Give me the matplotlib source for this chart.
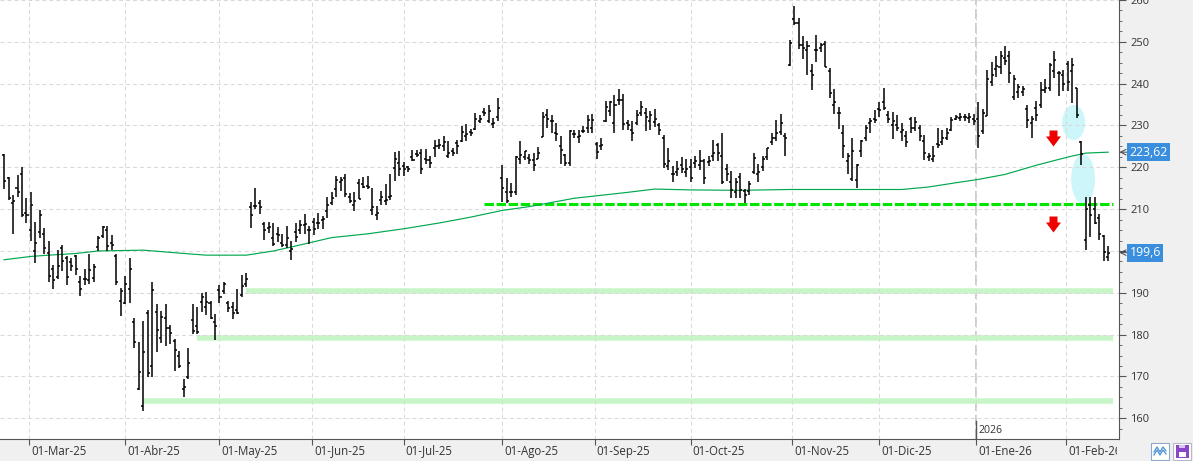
import numpy as np
import pandas as pd
import matplotlib
matplotlib.use('Agg')
import matplotlib.pyplot as plt
from matplotlib.patches import Ellipse, Rectangle
from matplotlib.path import Path
from matplotlib.ticker import MultipleLocator
from matplotlib.transforms import blended_transform_factory, offset_copy, Bbox, TransformedBbox

plt.rcParams['font.family'] = ['Open Sans', 'DejaVu Sans']

# trading days shown (US market calendar)
holidays = ['2025-04-18', '2025-05-26', '2025-06-19', '2025-07-04', '2025-09-01',
            '2025-11-27', '2025-12-25', '2026-01-01', '2026-01-19']
dates = pd.bdate_range('2025-02-21', '2026-02-13', freq='C', holidays=holidays)
meses = ['Ene', 'Feb', 'Mar', 'Abr', 'May', 'Jun', 'Jul', 'Ago', 'Sep', 'Oct', 'Nov', 'Dic']

highs = [
    223.3, 217.6, 213.3, 218.1, 220.0, 212.7,
    214.0, 207.0, 209.9, 205.6, 202.4, 196.7, 200.2, 201.4, 198.8, 198.4, 199.0, 194.0, 195.8, 199.2, 196.8, 203.5, 206.0, 206.0, 203.7, 199.2, 191.1,
    193.9, 198.3, 184.0, 178.2, 183.3, 185.9, 192.6, 187.3, 185.7, 187.3, 182.4, 179.0, 176.2, 169.5, 176.8, 187.3, 186.7, 190.0, 190.2, 188.0, 184.9,
    191.8, 192.7, 188.1, 187.9, 190.9, 194.2, 194.7, 211.7, 215.0, 212.1, 207.0, 207.0, 206.7, 205.7, 204.1, 206.0, 202.5, 206.7, 207.5, 208.9, 206.0,
    207.9, 209.1, 208.3, 212.9, 214.0, 217.9, 217.8, 218.4, 213.9, 214.0, 217.2, 217.6, 217.9, 215.0, 210.8, 214.4, 216.0, 218.4, 223.6, 224.0,
    221.2, 220.4, 224.1, 224.1, 224.4, 224.4, 222.8, 226.6, 226.7, 227.4, 226.3, 224.6, 226.5, 229.8, 230.3, 229.1, 232.9, 232.5, 234.3, 234.9, 231.9, 236.5,
    220.5, 217.5, 216.2, 222.8, 226.3, 224.0, 223.2, 223.5, 224.8, 233.2, 234.0, 232.4, 230.5, 227.4, 223.1, 229.0, 229.0, 229.0, 229.8, 232.6, 232.8,
    226.1, 227.0, 235.8, 235.9, 237.4, 238.8, 237.5, 231.4, 231.0, 233.8, 235.9, 234.2, 233.4, 234.0, 230.5, 227.8, 224.5, 220.4, 221.5, 222.4, 222.1,
    222.1, 222.7, 224.2, 221.9, 222.7, 226.6, 225.8, 228.2, 220.7, 219.1, 217.5, 218.7, 214.7, 216.7, 223.5, 220.7, 222.7, 224.6, 228.2, 231.4, 232.8, 228.2, 250.4,
    258.6, 255.6, 251.3, 250.2, 244.7, 251.6, 249.8, 250.2, 243.7, 238.7, 234.5, 230.2, 223.4, 227.0, 220.9, 226.6, 230.2, 231.7, 233.7,
    235.7, 239.0, 233.5, 233.3, 232.5, 230.6, 228.6, 232.1, 232.1, 230.0, 227.8, 223.4, 225.0, 229.4, 229.0, 229.4, 232.1, 232.5, 232.9, 232.7, 232.9, 232.7,
    235.6, 234.0, 243.3, 245.2, 246.7, 247.9, 248.9, 247.7, 242.1, 239.8, 239.4, 235.0, 232.2, 235.8, 240.4, 241.0, 244.9, 247.9, 243.1, 243.3,
    245.5, 246.1, 239.0, 226.3, 212.9, 212.8, 212.8, 208.8, 203.9, 201.3,
]
lows = [
    214.7, 212.3, 204.1, 212.9, 208.2, 206.7,
    202.4, 197.2, 203.2, 199.2, 192.5, 190.9, 193.3, 195.2, 191.8, 195.2, 194.3, 189.3, 191.9, 192.1, 192.5, 200.0, 203.2, 200.0, 200.2, 191.8, 184.4,
    187.4, 187.5, 176.7, 166.7, 161.7, 169.8, 169.8, 175.8, 178.0, 177.2, 177.8, 171.3, 172.0, 165.1, 169.3, 180.2, 180.1, 185.3, 184.8, 183.7, 178.6,
    187.5, 189.7, 185.3, 183.7, 184.9, 188.9, 191.3, 205.6, 210.1, 208.8, 202.7, 204.3, 201.3, 202.1, 200.9, 200.6, 197.9, 202.1, 204.1, 204.1, 201.7,
    203.7, 205.3, 205.3, 207.9, 210.9, 213.0, 214.4, 213.0, 211.5, 209.5, 212.4, 215.0, 214.8, 208.5, 207.5, 210.9, 211.1, 212.1, 216.8, 218.0,
    218.0, 219.0, 221.6, 222.4, 218.4, 220.8, 219.8, 222.4, 224.4, 224.0, 222.2, 222.8, 223.2, 226.0, 226.3, 227.5, 228.9, 230.7, 232.3, 230.5, 229.4, 231.1,
    211.7, 211.5, 212.9, 213.3, 220.7, 221.8, 220.7, 219.1, 221.9, 227.2, 229.4, 228.2, 226.2, 220.8, 220.4, 220.4, 227.0, 225.8, 228.1, 228.1, 228.2,
    221.9, 224.2, 230.9, 232.2, 228.1, 235.0, 229.0, 229.0, 226.4, 230.2, 232.2, 228.8, 229.0, 229.6, 227.7, 219.9, 219.3, 216.5, 217.9, 218.7, 217.6,
    216.5, 219.9, 219.3, 215.9, 220.3, 221.5, 221.5, 215.9, 216.7, 212.6, 212.7, 212.7, 211.5, 213.3, 218.3, 216.5, 219.1, 221.7, 225.4, 226.2, 227.8, 222.7, 244.3,
    254.0, 248.4, 246.0, 242.1, 238.5, 245.2, 247.5, 244.0, 236.5, 232.8, 229.2, 222.2, 218.4, 216.7, 215.1, 222.4, 226.2, 228.2, 230.6,
    232.1, 233.7, 230.6, 226.8, 228.6, 226.2, 224.8, 228.2, 228.6, 226.2, 221.8, 221.4, 221.2, 224.6, 225.4, 226.6, 228.6, 231.3, 231.1, 231.1, 230.6, 230.2,
    224.7, 227.9, 232.2, 239.5, 241.7, 242.3, 244.5, 240.2, 236.2, 236.6, 237.0, 229.4, 226.9, 231.0, 234.2, 237.8, 238.2, 241.3, 237.0, 238.2,
    238.2, 235.4, 231.8, 220.5, 200.2, 203.3, 206.4, 202.6, 197.7, 197.5,
]
opens = [
    222.9, 217.4, 211.5, 215.0, 218.4, 209.0,
    205.0, 200.0, 204.5, 204.0, 199.4, 195.7, 193.8, 200.6, 198.4, 197.4, 198.8, 192.6, 193.3, 193.0, 193.5, 201.0, 203.5, 205.0, 202.0, 198.8, 188.0,
    187.6, 191.0, 183.0, 167.0, 163.0, 185.2, 172.6, 185.5, 179.1, 184.0, 181.7, 178.4, 175.0, 167.0, 169.9, 183.5, 182.0, 187.8, 186.5, 187.5, 183.0,
    190.7, 190.5, 187.5, 186.5, 186.0, 189.5, 192.0, 210.5, 210.8, 211.5, 206.5, 205.5, 203.0, 204.1, 201.8, 201.5, 200.1, 204.6, 205.0, 206.3, 205.0,
    207.0, 206.8, 207.5, 209.5, 211.5, 214.8, 216.5, 217.5, 213.0, 211.0, 216.3, 216.0, 215.5, 209.8, 208.6, 212.2, 212.0, 213.0, 219.8, 221.0,
    220.3, 220.0, 222.5, 223.2, 223.5, 222.0, 221.8, 224.5, 225.2, 225.0, 222.8, 223.8, 225.7, 226.4, 227.5, 228.5, 229.2, 231.0, 233.2, 231.0, 230.4, 232.0,
    217.4, 214.0, 214.0, 214.0, 221.9, 222.5, 222.2, 221.8, 222.1, 227.3, 232.5, 231.0, 228.3, 225.0, 223.0, 221.0, 228.0, 227.3, 228.6, 229.4, 229.5,
    225.5, 225.0, 231.1, 233.5, 230.5, 236.2, 236.0, 230.5, 229.0, 230.6, 233.0, 233.0, 231.0, 230.9, 230.2, 227.0, 220.4, 218.4, 219.0, 220.5, 219.0,
    220.0, 221.0, 220.5, 221.5, 221.3, 222.8, 225.4, 222.8, 219.5, 216.5, 214.0, 217.7, 214.4, 214.3, 219.0, 218.5, 220.0, 222.5, 226.0, 227.0, 228.5, 227.5, 244.5,
    255.4, 254.5, 249.3, 248.0, 243.1, 248.0, 248.5, 249.5, 243.0, 234.9, 233.0, 228.2, 221.5, 217.1, 217.0, 224.0, 227.0, 230.6, 231.5,
    234.0, 235.5, 232.4, 230.0, 230.0, 228.5, 227.5, 231.5, 229.5, 229.3, 226.3, 222.5, 222.0, 225.5, 226.0, 227.0, 229.0, 231.5, 231.8, 232.0, 231.8, 231.5,
    231.5, 228.8, 232.2, 240.5, 243.5, 244.0, 246.1, 246.5, 236.9, 238.0, 238.0, 234.0, 230.5, 234.2, 235.0, 238.5, 239.0, 243.0, 242.5, 242.0,
    244.6, 243.0, 238.9, 226.0, 202.6, 211.0, 210.0, 207.8, 203.6, 198.5,
]
closes = [
    216.7, 212.7, 212.0, 214.2, 208.7, 208.7,
    211.0, 202.0, 208.6, 200.8, 194.0, 193.0, 196.4, 197.6, 193.8, 196.5, 195.8, 191.0, 193.4, 195.5, 196.2, 203.0, 205.7, 201.2, 201.4, 192.6, 190.4,
    192.1, 195.6, 178.2, 171.1, 175.8, 170.9, 190.6, 181.1, 184.3, 181.5, 180.5, 176.4, 172.5, 167.6, 173.1, 180.8, 180.6, 189.1, 187.8, 184.0, 182.1,
    189.0, 192.0, 186.4, 185.2, 185.2, 191.6, 193.4, 208.5, 210.7, 210.5, 205.1, 205.8, 201.7, 203.8, 201.4, 203.0, 200.5, 203.3, 206.1, 206.5, 205.1,
    205.2, 206.7, 207.6, 211.0, 212.7, 217.0, 217.0, 213.6, 212.0, 212.0, 212.5, 215.4, 215.2, 210.5, 209.0, 213.0, 212.2, 213.1, 222.0, 219.5,
    219.5, 219.5, 221.8, 223.0, 219.5, 221.7, 221.0, 225.0, 225.3, 226.1, 223.5, 223.5, 225.0, 228.5, 228.0, 228.3, 231.5, 231.5, 233.0, 233.5, 230.5, 234.1,
    215.0, 212.0, 214.1, 222.5, 223.0, 223.8, 221.8, 220.5, 223.5, 232.0, 231.5, 231.1, 228.0, 224.2, 221.0, 228.8, 227.9, 227.5, 228.6, 231.4, 231.4,
    223.6, 225.3, 234.5, 235.6, 235.0, 236.0, 230.4, 230.0, 228.2, 232.5, 234.5, 232.0, 232.5, 231.5, 229.0, 220.7, 221.5, 218.5, 219.5, 219.7, 219.5,
    217.5, 221.5, 221.5, 217.5, 221.5, 223.5, 223.5, 216.5, 218.5, 214.5, 216.5, 214.5, 213.5, 216.0, 222.2, 219.0, 221.9, 224.5, 227.0, 228.2, 230.5, 227.0, 249.8,
    254.6, 249.3, 248.6, 249.1, 242.0, 248.0, 249.2, 244.1, 237.7, 235.5, 233.0, 225.0, 222.6, 224.0, 220.6, 226.2, 229.4, 231.0, 231.4,
    233.6, 234.3, 231.5, 231.0, 229.5, 229.0, 226.0, 229.5, 230.8, 227.5, 223.5, 222.8, 222.8, 225.4, 226.9, 228.3, 231.2, 232.0, 232.1, 232.0, 232.0, 231.0,
    227.5, 233.0, 241.0, 242.0, 244.3, 246.6, 245.5, 242.6, 241.0, 239.2, 238.8, 231.4, 231.5, 232.5, 238.4, 239.0, 244.5, 245.7, 242.6, 239.8,
    240.5, 244.5, 232.5, 223.1, 210.0, 208.5, 206.8, 204.0, 199.8, 199.6,
]

# moving average read at a few bar positions
ma_idx = [0, 6, 10, 16, 21, 31, 39, 45, 54, 60, 65, 73, 81, 89, 97, 104, 111, 117, 127,
          138, 145, 153, 164, 175, 188, 200, 206, 212, 217, 223, 230, 235, 238, 241, 246]
ma_val = [197.9, 198.7, 199.0, 199.4, 200.0, 200.2, 199.5, 199.0, 199.0, 200.0, 201.2, 203.2,
          204.1, 205.3, 206.7, 208.1, 209.7, 210.6, 212.6, 213.9, 214.8, 214.6, 214.5, 214.7,
          214.7, 214.7, 215.3, 216.3, 217.1, 218.3, 220.5, 221.9, 222.7, 223.4, 223.62]

# drawn support levels (value, first bar)
support_lvl = [190.5, 179.1, 164.2]
support_start = [54, 43, 31]
broken_lvl = 211.2
broken_start = 107

W, H = 1193, 461
fig = plt.figure(figsize=(W / 100, H / 100), dpi=100, facecolor='#f0f0f0')
ax = fig.add_axes([0, 22 / H, 1119 / W, 439 / H])
ax.set_facecolor('white')
n = len(highs)
x = np.arange(n)
ax.set_xlim(-0.9, n + 1.4)
ax.set_ylim(155.05, 260)

# month ticks
mid = dates.year * 12 + dates.month
starts = np.where(np.diff(mid) != 0)[0] + 1
tick_pos = starts - np.where(dates[starts].day > 1, 0.4, 0.0)
tick_lab = ['01-%s-%02d' % (meses[dates[i].month - 1], dates[i].year % 100) for i in starts]

ax.set_xticks(tick_pos)
ax.set_xticklabels([])
ax.set_yticks(np.arange(160, 261, 10))
ax.yaxis.set_minor_locator(MultipleLocator(2.5))
ax.yaxis.tick_right()
ax.grid(True, color='#d9d9d9', lw=0.75, ls=(0, (3.8, 2.9)), zorder=0)
ax.tick_params(axis='x', length=4.5, color='#555555', direction='out')
ax.tick_params(axis='y', which='major', length=5, color='#555555', labelsize=8,
               labelcolor='#333333', pad=3)
ax.tick_params(axis='y', which='minor', length=2.5, color='#555555')
for s in ['left', 'top']:
    ax.spines[s].set_visible(False)
for s in ['right', 'bottom']:
    ax.spines[s].set_color('#555555')

# year separator
yr = starts[dates[starts].month == 1][0]
yr_pos = tick_pos[list(starts).index(yr)]
ax.axvline(yr_pos, color='#c4c4c4', lw=1.2, ls=(0, (6, 2.4)), zorder=0.5)
ax.axvline(yr_pos, ymin=0, ymax=18 / 439, color='#555555', lw=1)
ax.text(yr_pos, 9 / 439, str(dates[yr].year), transform=offset_copy(
    blended_transform_factory(ax.transData, ax.transAxes), fig=fig, x=2, y=0, units='dots'),
    fontsize=7.6, color='#333333', va='center', ha='left')

# date labels below the axis, clipped just before the price scale
clip = TransformedBbox(Bbox([[0, -1], [1117 / 1119, 0]]), ax.transAxes)
lab_tr = offset_copy(blended_transform_factory(ax.transData, ax.transAxes), fig=fig,
                     x=2, y=0, units='dots')
for p, lab in zip(tick_pos, tick_lab):
    t = ax.text(p, -12 / 439, lab, transform=lab_tr, fontsize=8.3, color='#333333',
                va='center', ha='left', clip_on=True)
    t.set_clip_path(None)
    t.set_clip_box(clip)

# annotations
ax.add_patch(Ellipse((238.3, 230.7), 5.1, 8.4, fc='#cdf6fa', ec='none', zorder=1.2))
ax.add_patch(Ellipse((240.4, 217.2), 5.3, 11.9, fc='#cdf6fa', ec='none', zorder=1.2))
ax.hlines(support_lvl, support_start, n, colors='#c8f5c8', lw=4, zorder=1.5)
ax.hlines(broken_lvl, broken_start, n, colors='#00e600', lw=2.2,
          linestyles=[(0, (3.1, 0.85))], zorder=1.6)
ax.plot(ma_idx, ma_val, color='#00a84f', lw=0.85, zorder=2)

# OHLC bars
ax.vlines(x, lows, highs, color='black', lw=1.1, zorder=3)
ax.hlines(opens, x - 0.45, x, color='black', lw=1.1, zorder=3)
ax.hlines(closes, x, x + 0.45, color='black', lw=1.1, zorder=3)

# red down arrows
arrow = Path([(-0.25, 0.5), (0.25, 0.5), (0.25, 0.125), (0.47, 0.125), (0, -0.5),
              (-0.47, 0.125), (-0.25, 0.125), (-0.25, 0.5)], closed=True)
ax.plot([233.8, 233.8], [227.1, 206.5], ls='none', marker=arrow, ms=11.5,
        mfc='#ee0000', mec='#ee0000', mew=0, zorder=4)

# value labels on the price scale
bl = blended_transform_factory(ax.transAxes, ax.transData)
for v, txt in [(ma_val[-1], f'{ma_val[-1]:g}'), (closes[-1], f'{closes[-1]:g}')]:
    ax.text(1.0095, v, txt.replace('.', ','), transform=bl, color='white', fontsize=8.8,
            va='center', ha='left', clip_on=False, zorder=5,
            bbox=dict(boxstyle='square,pad=0.2', fc='#3a8ede', ec='none'))
    ax.annotate('', xy=(1.0004, v), xytext=(1.0075, v), xycoords=bl, textcoords=bl,
                arrowprops=dict(arrowstyle='->', color='#444444', lw=0.7,
                                shrinkA=0, shrinkB=0))


def px_rect(x0, y0, w, h, **kw):
    fig.add_artist(Rectangle((x0 / W, 1 - (y0 + h) / H), w / W, h / H,
                             transform=fig.transFigure, **kw))


# toolbar icons
px_rect(1151, 443, 18, 17, fc='white', ec='#8fa8c8', lw=0.8)
for dy in (0, 3):
    zx = np.array([1154, 1157, 1160, 1163, 1166]) / W
    zy = 1 - (np.array([452, 447, 452, 447, 451]) + dy) / H
    fig.add_artist(plt.Line2D(zx, zy, color='#4a8fd9', lw=0.9, transform=fig.transFigure))
px_rect(1173, 443, 18, 17, fc='white', ec='#b8b8c8', lw=0.8)
px_rect(1176, 445, 13, 13, fc='#8a46c8', ec='none')
px_rect(1179, 452, 7, 5, fc='white', ec='none')
px_rect(1179, 445, 6, 3, fc='#d6c6f0', ec='none')

fig.savefig('out.png', dpi=100, facecolor=fig.get_facecolor())
